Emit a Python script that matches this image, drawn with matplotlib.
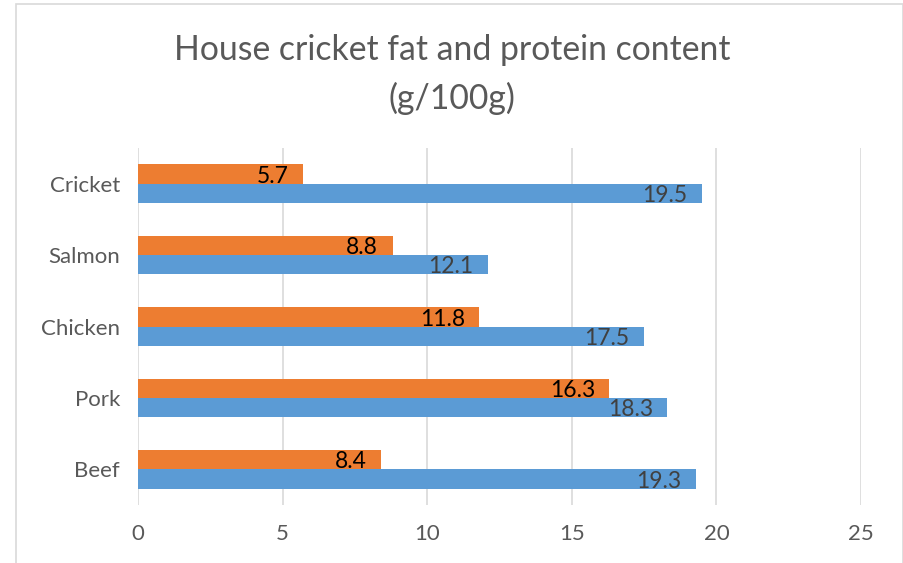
import matplotlib
matplotlib.use("Agg")
import matplotlib.pyplot as plt
from matplotlib.patches import Rectangle

# ================================
# Data
# ================================
categories = ["Beef", "Pork", "Chicken", "Salmon", "Cricket"]
fat = [8.4, 16.3, 11.8, 8.8, 5.7]
protein = [19.3, 18.3, 17.5, 12.1, 19.5]
x_ticks = [0, 5, 10, 15, 20, 25]

FONT = ["Lato", "DejaVu Sans"]
ORANGE = "#ed7d31"
BLUE = "#5b9bd5"
GRAY = "#595959"

plt.rcParams["font.family"] = FONT

fig = plt.figure(figsize=(9.04, 5.63), dpi=100)
ax = fig.add_axes([0.1527, 0.103, 0.7997, 0.634])

# chart border
fig.patches.append(Rectangle((16 / 904, -0.1), (903 - 16) / 904, 1.1 - 4 / 563,
                             transform=fig.transFigure, fill=False,
                             edgecolor="#d9d9d9", linewidth=1.2))

h = 0.27
y = list(range(len(categories)))
y_fat = [v + h / 2 for v in y]
y_pro = [v - h / 2 for v in y]

ax.barh(y_fat, fat, height=h, color=ORANGE, zorder=3)
ax.barh(y_pro, protein, height=h, color=BLUE, zorder=3)

for yy, v in zip(y_fat, fat):
    ax.text(v - 0.5, yy - 0.03, f"{v}", ha="right", va="center",
            fontsize=16.5, color="black", zorder=4)
for yy, v in zip(y_pro, protein):
    ax.text(v - 0.5, yy - 0.03, f"{v}", ha="right", va="center",
            fontsize=16.5, color="#404040", zorder=4)

ax.set_xlim(0, 25)
ax.set_ylim(-0.5, len(categories) - 0.5)
ax.set_xticks(x_ticks)
ax.set_yticks(y)
ax.set_yticklabels(categories)
ax.tick_params(axis="both", length=0, labelsize=16, labelcolor=GRAY)
ax.tick_params(axis="x", pad=14)
ax.tick_params(axis="y", pad=22 - 9)
ax.grid(axis="x", color="#d9d9d9", linewidth=1.2, zorder=0)
for s in ax.spines.values():
    s.set_visible(False)

fig.text(0.5, 0.912, "House cricket fat and protein content", ha="center",
         va="center", fontsize=24.3, color=GRAY)
fig.text(0.5, 0.826, "(g/100g)", ha="center", va="center", fontsize=24.3,
         color=GRAY)

fig.savefig("out.png", dpi=100)
